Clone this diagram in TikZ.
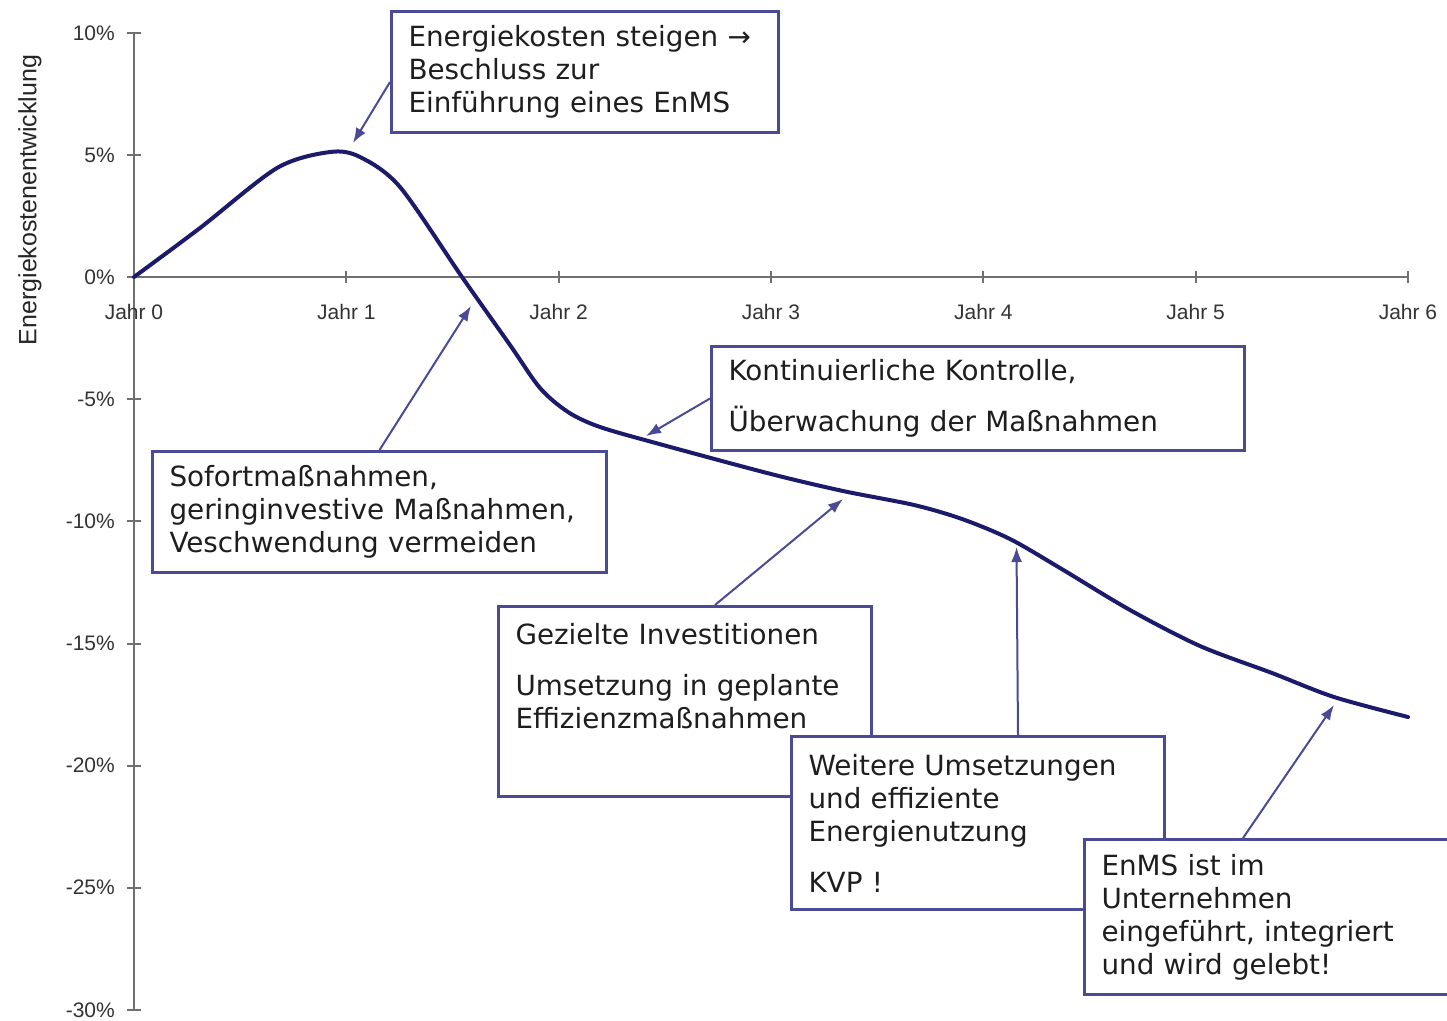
\documentclass[tikz,border=0pt]{standalone}
\usepackage{fontspec}
\setmainfont{Liberation Sans}
\newfontfamily\boxfont{DejaVu Sans}
\usetikzlibrary{arrows.meta,calc}
\definecolor{curvecol}{HTML}{1B1A6B}
\definecolor{boxcol}{HTML}{4B4A96}
\definecolor{axiscol}{HTML}{707070}
\definecolor{txtcol}{HTML}{1E1E1E}
\begin{document}
\begin{tikzpicture}[x=1pt,y=-1pt,
  box/.style={draw=boxcol,line width=3pt,fill=white,anchor=north west,align=left,
    inner xsep=17pt,inner ysep=0pt,font=\boxfont\fontsize{27.8}{33}\selectfont,text=txtcol},
  conn/.style={draw=boxcol,line width=2pt,-{Latex[length=15pt,width=11pt]}},
  ticklab/.style={font=\fontsize{21}{24}\selectfont,text=black!80,inner sep=0pt},
  axisline/.style={draw=axiscol,line width=2pt}]
\useasboundingbox (0,0) rectangle (1447,1020);
\clip (0,0) rectangle (1447,1020);
\fill[white] (0,0) rectangle (1447,1020);
% axes
\draw[axisline] (134,33) -- (134,1010);
\draw[axisline] (134,277) -- (1408,277);
\foreach \i/\lab in {0/10\%,1/5\%,2/0\%,3/-5\%,4/-10\%,5/-15\%,6/-20\%,7/-25\%,8/-30\%}{
  \draw[axisline] (127,{33+\i*122.1}) -- (141,{33+\i*122.1});
  \node[ticklab,anchor=east] (yl\i) at (115,{33+\i*122.1}) {\lab};
}
\foreach \j in {0,...,6}{
  \draw[axisline] ({134+\j*212.33},271) -- ({134+\j*212.33},283);
  \node[ticklab] (xl\j) at ({134+\j*212.33},312) {Jahr \j};
}
\node[rotate=90,font=\fontsize{25}{28}\selectfont,text=black!85] (ytitle) at (30,200) {Energiekostenentwicklung};
% curve
\draw[curvecol,line width=4pt,line cap=round,line join=round] plot[smooth,tension=0.5] coordinates {
(134,277) (200,228) (277,168) (330,152) (360,157) (400,187) (462,277) (510,345) (540,388)
(568,412) (600,427) (663,445) (771,474) (843,491) (914,505) (962,519) (1010,539) (1060,568)
(1130,610) (1200,646) (1272,673) (1334,697) (1408,717)};
% points on curve
\coordinate (p1) at (353,143);
\coordinate (p2) at (471,306);
\coordinate (p3) at (646,436);
\coordinate (p4) at (843,499);
\coordinate (p5) at (1016.5,547);
\coordinate (p6) at (1334,705);
% boxes
\node[box,text width=353pt,minimum height=121pt] (b1) at (390,10)
  {Energiekosten steigen →\\Beschluss zur\\Einführung eines EnMS};
\node[box,text width=420pt,minimum height=121pt] (b2) at (151,450)
  {Sofortmaßnahmen,\\geringinvestive Maßnahmen,\\Veschwendung vermeiden};
\node[box,text width=499pt,minimum height=104pt] (b3) at (710,345)
  {Kontinuierliche Kontrolle,\\[18pt]Überwachung der Maßnahmen};
\node[box,text width=339pt,minimum height=190pt] (b4) at (497,605)
  {Gezielte Investitionen\\[18pt]Umsetzung in geplante\\Effizienzmaßnahmen\\[18pt]\mbox{}};
\node[box,text width=339pt,minimum height=173pt] (b5) at (790,735)
  {Weitere Umsetzungen\\und effiziente\\Energienutzung\\[18pt]KVP !};
\node[box,text width=400pt,minimum height=155pt] (b6) at (1083,838)
  {EnMS ist im\\Unternehmen\\eingeführt, integriert\\und wird gelebt!};
% connectors
\draw[conn] ([yshift=-10pt]b1.west) -- (p1);
\draw[conn] (b2.north) -- (p2);
\draw[conn] (b3.west) -- (p3);
\draw[conn] ([xshift=30pt]b4.north) -- (p4);
\draw[conn] ([xshift=40pt]b5.north) -- (p5);
\draw[conn] ([xshift=160pt]b6.north west) -- (p6);
\end{tikzpicture}
\end{document}
